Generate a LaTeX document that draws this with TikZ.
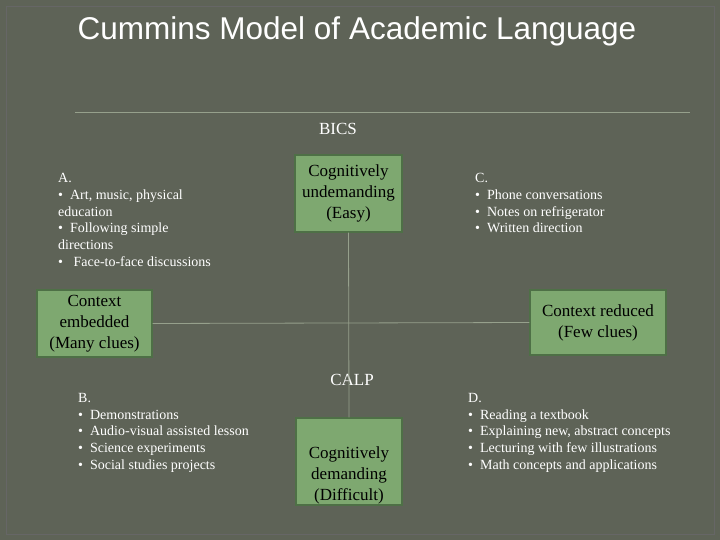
\documentclass[tikz,border=0pt]{standalone}
\usepackage{fontspec}
\setmainfont{Liberation Serif}
\newfontfamily\titlefont{Liberation Sans}
\definecolor{bg}{RGB}{94,99,87}
\definecolor{boxg}{RGB}{126,168,112}
\definecolor{boxb}{RGB}{78,112,70}
\definecolor{linec}{RGB}{150,160,140}
\begin{document}
\begin{tikzpicture}[x=1pt,y=-1pt,
  gbox/.style={draw=boxb,line width=1.2pt,fill=boxg,align=center,font=\fontsize{17}{21}\selectfont,inner sep=0pt},
  btxt/.style={align=center,font=\fontsize{17}{21}\selectfont,inner sep=0pt},
  lst/.style={align=left,anchor=north west,text=white,font=\fontsize{14}{16.8}\selectfont,inner sep=0pt},
  lab/.style={text=white,font=\fontsize{17}{20}\selectfont}]
\fill[bg] (0,0) rectangle (720,540);
\useasboundingbox (0,0) rectangle (720,540);
\draw[black!60,line width=0.8pt] (6,6) rectangle (714,534);
\node[text=white,font=\titlefont\fontsize{31.5}{36}\selectfont] (title) at (357,31) {Cummins Model of Academic Language};
\coordinate (l1) at (75,112); \coordinate (l2) at (690,112);
\draw[linec,line width=0.6pt] (l1) -- (l2);
\node[lab] (bics) at (338,129) {BICS};
\node[lab] (calp) at (352,380) {CALP};
\node[gbox,minimum width=107,minimum height=77] (easy) at (348.5,193.5) {Cognitively\\undemanding\\(Easy)};
\node[gbox,minimum width=115,minimum height=67] (emb) at (94.5,323.5) {Context\\embedded\\(Many clues)};
\node[gbox,minimum width=136,minimum height=65] (red) at (598,322.5) {Context reduced\\(Few clues)};
\node[gbox,minimum width=106,minimum height=87] (diff) at (349,461.5) {};
\node[btxt] (difft) at (349,475) {Cognitively\\demanding\\(Difficult)};
\draw[linec,line width=0.8pt] (easy.south) -- (diff.north);
\draw[linec,line width=0.8pt] (emb.east) -- (red.west);
\node[lst] (a) at (58,173) {A.\\\textbullet\ \ Art, music, physical\\education\\\textbullet\ \ Following simple\\directions\\\textbullet\ \ \ Face-to-face discussions};
\node[lst] (c) at (475,173) {C.\\\textbullet\ \ Phone conversations\\\textbullet\ \ Notes on refrigerator\\\textbullet\ \ Written direction};
\node[lst] (b) at (78,393) {B.\\\textbullet\ \ Demonstrations\\\textbullet\ \ Audio-visual assisted lesson\\\textbullet\ \ Science experiments\\\textbullet\ \ Social studies projects};
\node[lst] (d) at (468,393) {D.\\\textbullet\ \ Reading a textbook\\\textbullet\ \ Explaining new, abstract concepts\\\textbullet\ \ Lecturing with few illustrations\\\textbullet\ \ Math concepts and applications};
\end{tikzpicture}
\end{document}
